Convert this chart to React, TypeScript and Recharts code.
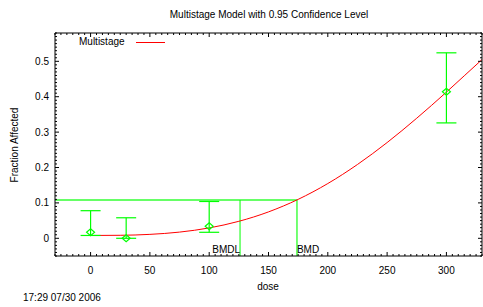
import React from 'react';
import { ComposedChart, Line, ErrorBar, XAxis, YAxis, ReferenceLine } from 'recharts';

// ---- data ----
const doses = [0, 30, 100, 300];
const observed = [0.017, 0.0, 0.034, 0.414];
const lowerCI = [0.008, 0.0, 0.017, 0.326];
const upperCI = [0.078, 0.058, 0.104, 0.524];

const curveDoses = [0, 25, 50, 75, 100, 125, 150, 175, 200, 225, 250, 275, 300, 315, 330];
const curveValues = [0.008, 0.0085, 0.0111, 0.0175, 0.0293, 0.048, 0.0746, 0.110, 0.1547, 0.2085, 0.2705, 0.3393, 0.413, 0.459, 0.505];

const bmr = 0.108;
const bmdl = 126;
const bmd = 174;

const xTickLabels = [0, 50, 100, 150, 200, 250, 300];
const yTickLabels = [0, 0.1, 0.2, 0.3, 0.4, 0.5];

const xDomain: [number, number] = [-30, 330];
const yDomain: [number, number] = [-0.05, 0.58];

// ---- layout ----
const W = 483;
const H = 307;
const M = { top: 33, right: 1, bottom: 0, left: 0 };
const Y_AXIS_W = 55;
const X_AXIS_H = 51;
const PLOT_W = W - M.left - M.right - Y_AXIS_W;
const PLOT_H = H - M.top - M.bottom - X_AXIS_H;
// tick lengths in pixels, turned into data units
const pxToX = (xDomain[1] - xDomain[0]) / PLOT_W;
const pxToY = (yDomain[1] - yDomain[0]) / PLOT_H;
const MAJOR_PX = 4;
const MINOR_PX = 2;

// ---- built tables ----
const curveData = curveDoses.map((d, i) => ({ dose: d, p: curveValues[i] }));
const pointData = doses.map((d, i) => ({
  dose: d,
  resp: observed[i],
  err: [observed[i] - lowerCI[i], upperCI[i] - observed[i]],
}));

const xAllTicks: number[] = [];
for (let v = -30; v <= 330; v += 5) xAllTicks.push(v);
const yAllTicks: number[] = [];
for (let k = -5; k <= 58; k++) yAllTicks.push(k / 100);

const isMajorX = (v: number) => v % 50 === 0;
const isMajorY = (v: number) => Math.abs(v * 10 - Math.round(v * 10)) < 1e-6;
const fmtY = (v: number) => (Math.abs(v) < 1e-9 ? '0' : String(Math.round(v * 10) / 10));

const frameData = [
  { dose: xDomain[0], v: yDomain[0] },
  { dose: xDomain[1], v: yDomain[0] },
  { dose: xDomain[1], v: yDomain[1] },
  { dose: xDomain[0], v: yDomain[1] },
  { dose: xDomain[0], v: yDomain[0] },
];

const xTickMarks: { dose: number; v: number | null }[] = [];
xAllTicks.forEach((t) => {
  const len = (isMajorX(t) ? MAJOR_PX : MINOR_PX) * pxToY;
  xTickMarks.push({ dose: t, v: yDomain[0] }, { dose: t, v: yDomain[0] + len }, { dose: t, v: null });
  xTickMarks.push({ dose: t, v: yDomain[1] }, { dose: t, v: yDomain[1] - len }, { dose: t, v: null });
});
const yTickMarks: { dose: number; v: number | null }[] = [];
yAllTicks.forEach((t) => {
  const len = (isMajorY(t) ? MAJOR_PX : MINOR_PX) * pxToX;
  yTickMarks.push({ dose: xDomain[0], v: t }, { dose: xDomain[0] + len, v: t }, { dose: xDomain[0], v: null });
  yTickMarks.push({ dose: xDomain[1], v: t }, { dose: xDomain[1] - len, v: t }, { dose: xDomain[1], v: null });
});

const FONT = '"Liberation Sans", Arial, Helvetica, sans-serif';
const GREEN = '#00ff00';

const BottomTick = (props: any) => {
  const x = Number(props.x);
  const y = Number(props.y);
  const v = props.payload.value;
  if (!xTickLabels.includes(v)) return <g />;
  return (
    <text x={x} y={y + 18} textAnchor="middle" fontSize={10} fontFamily={FONT} fill="#000">
      {v}
    </text>
  );
};

const LeftTick = (props: any) => {
  const x = Number(props.x);
  const y = Number(props.y);
  const v = props.payload.value;
  const labelled = yTickLabels.some((t) => Math.abs(t - v) < 1e-6);
  if (!labelled) return <g />;
  return (
    <text x={x - 6} y={y} dy="0.35em" textAnchor="end" fontSize={10} fontFamily={FONT} fill="#000">
      {fmtY(v)}
    </text>
  );
};

const Diamond = (props: any) => {
  const { cx, cy } = props;
  if (cx == null || cy == null) return <g />;
  return (
    <path
      key={`d-${cx}`}
      d={`M${cx - 4},${cy} L${cx},${cy - 3.5} L${cx + 4},${cy} L${cx},${cy + 3.5} Z`}
      fill="none"
      stroke={GREEN}
      strokeWidth={1.2}
    />
  );
};

const vLabel = (text: string, anchor: 'start' | 'end') => (props: any) => {
  const vb = props.viewBox || {};
  const x = vb.x ?? 0;
  const bottom = Math.max(vb.y ?? 0, (vb.y ?? 0) + (vb.height ?? 0));
  return (
    <text x={x} y={bottom - 3} textAnchor={anchor} fontSize={10} fontFamily={FONT} fill="#000">
      {text}
    </text>
  );
};

const txt: React.CSSProperties = {
  position: 'absolute',
  fontFamily: FONT,
  fontSize: 10,
  lineHeight: '12px',
  whiteSpace: 'nowrap',
  color: '#000',
};

export default function App() {
  return (
    <div style={{ position: 'absolute', left: 0, top: 0, width: W, height: H, background: '#fff' }}>
      <ComposedChart width={W} height={H} margin={M}>
        <XAxis
          xAxisId="b"
          dataKey="dose"
          type="number"
          domain={xDomain}
          ticks={xTickLabels}
          interval={0}
          height={X_AXIS_H}
          tickSize={0}
          tickMargin={0}
          tickLine={false}
          axisLine={false}
          tick={<BottomTick />}
        />
        <YAxis
          yAxisId="l"
          type="number"
          domain={yDomain}
          ticks={yTickLabels}
          interval={0}
          width={Y_AXIS_W}
          tickSize={0}
          tickMargin={0}
          tickLine={false}
          axisLine={false}
          tick={<LeftTick />}
        />
        <ReferenceLine
          xAxisId="b"
          yAxisId="l"
          segment={[{ x: xDomain[0], y: bmr }, { x: bmd, y: bmr }]}
          stroke="#66ff66"
          strokeWidth={2}
          ifOverflow="visible"
        />
        <ReferenceLine
          xAxisId="b"
          yAxisId="l"
          segment={[{ x: bmdl, y: yDomain[0] }, { x: bmdl, y: bmr }]}
          stroke={GREEN}
          strokeWidth={1}
          ifOverflow="visible"
          label={vLabel('BMDL', 'end')}
        />
        <ReferenceLine
          xAxisId="b"
          yAxisId="l"
          segment={[{ x: bmd, y: yDomain[0] }, { x: bmd, y: bmr }]}
          stroke="#44ff44"
          strokeWidth={1.5}
          ifOverflow="visible"
          label={vLabel('BMD', 'start')}
        />
        <Line
          xAxisId="b"
          yAxisId="l"
          data={curveData}
          dataKey="p"
          type="monotone"
          stroke="#ff0000"
          strokeWidth={1}
          dot={false}
          isAnimationActive={false}
        />
        <Line
          xAxisId="b"
          yAxisId="l"
          data={pointData}
          dataKey="resp"
          stroke="none"
          dot={<Diamond />}
          activeDot={false}
          isAnimationActive={false}
        >
          <ErrorBar dataKey="err" direction="y" width={10} stroke={GREEN} strokeWidth={1.2} />
        </Line>
        <Line
          xAxisId="b"
          yAxisId="l"
          data={frameData}
          dataKey="v"
          type="linear"
          stroke="#000"
          strokeWidth={1}
          dot={false}
          activeDot={false}
          isAnimationActive={false}
        />
        <Line
          xAxisId="b"
          yAxisId="l"
          data={xTickMarks}
          dataKey="v"
          type="linear"
          stroke="#000"
          strokeWidth={1}
          dot={false}
          activeDot={false}
          connectNulls={false}
          isAnimationActive={false}
        />
        <Line
          xAxisId="b"
          yAxisId="l"
          data={yTickMarks}
          dataKey="v"
          type="linear"
          stroke="#000"
          strokeWidth={1}
          dot={false}
          activeDot={false}
          connectNulls={false}
          isAnimationActive={false}
        />
      </ComposedChart>
      <div style={{ ...txt, left: 269, top: 9, transform: 'translateX(-50%)' }}>
        Multistage Model with 0.95 Confidence Level
      </div>
      <div style={{ ...txt, left: 79, top: 36 }}>Multistage</div>
      <div style={{ position: 'absolute', left: 136, top: 42, width: 29, height: 0, borderTop: '1px solid #ff0000' }} />
      <div style={{ ...txt, left: 15, top: 145, transform: 'translate(-50%, -50%) rotate(-90deg)' }}>
        Fraction Affected
      </div>
      <div style={{ ...txt, left: 268, top: 281, transform: 'translateX(-50%)' }}>dose</div>
      <div style={{ ...txt, left: 23, top: 292 }}>17:29 07/30 2006</div>
    </div>
  );
}
